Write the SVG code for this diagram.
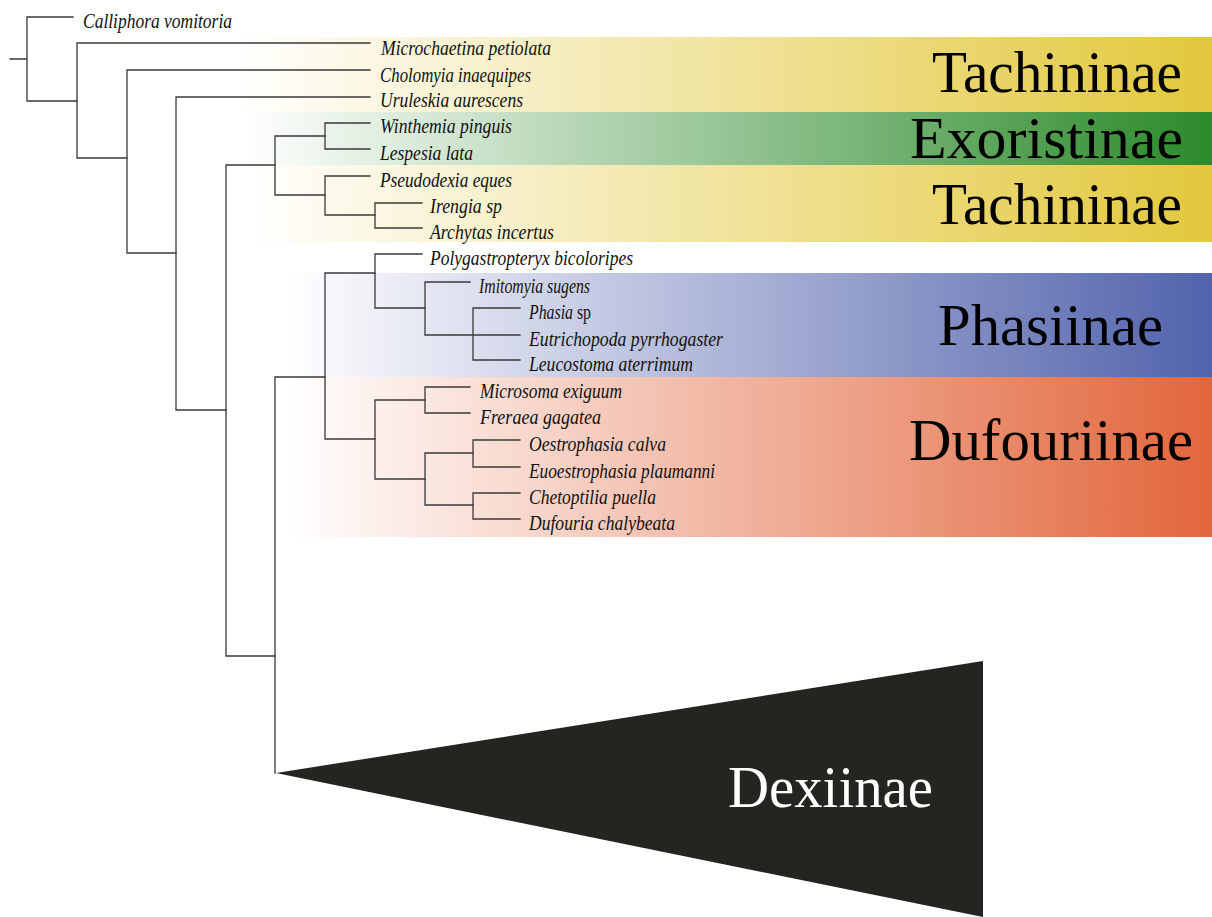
<svg xmlns="http://www.w3.org/2000/svg" width="1212" height="917" viewBox="0 0 1212 917">
<style>
.tx{font-family:"Liberation Serif","Times New Roman",serif;font-style:italic;font-size:20px;fill:#111}
.up{font-style:normal}
.big{font-family:"Liberation Serif","Times New Roman",serif;font-size:60px;fill:#000}
.br{fill:none;stroke:#3a3a3a;stroke-width:1.3;stroke-linecap:square}
</style>
<defs>
<linearGradient id="gY" x1="0" y1="0" x2="1" y2="0"><stop offset="0" stop-color="#ffffff"/><stop offset="1" stop-color="#e2c83c"/></linearGradient>
<linearGradient id="gG" x1="0" y1="0" x2="1" y2="0"><stop offset="0" stop-color="#ffffff"/><stop offset="1" stop-color="#2c8a2a"/></linearGradient>
<linearGradient id="gB" x1="0" y1="0" x2="1" y2="0"><stop offset="0" stop-color="#ffffff"/><stop offset="1" stop-color="#5263ac"/></linearGradient>
<linearGradient id="gR" x1="0" y1="0" x2="1" y2="0"><stop offset="0" stop-color="#ffffff"/><stop offset="1" stop-color="#e2663c"/></linearGradient>
</defs>
<rect width="1212" height="917" fill="#ffffff"/>
<g id="bands">
<rect x="230" y="37" width="982" height="75" fill="url(#gY)"/>
<rect x="240" y="112" width="972" height="53" fill="url(#gG)"/>
<rect x="240" y="165" width="972" height="77" fill="url(#gY)"/>
<rect x="285" y="273" width="927" height="104" fill="url(#gB)"/>
<rect x="285" y="377" width="927" height="160" fill="url(#gR)"/>
</g>
<g id="dexiinae">
<polygon points="276,773 983,661 983,917" fill="#262421"/>
<text class="big" x="728" y="807" style="fill:#ffffff" textLength="205" lengthAdjust="spacingAndGlyphs">Dexiinae</text>
</g>
<g id="connectors" class="br">
<path d="M10,59H27M27,17V101M27,17H73M27,101H77"/>
<path d="M77,43V158M77,43H370M77,158H127"/>
<path d="M127,70V253M127,70H370M127,253H176"/>
<path d="M176,97V410M176,97H370M176,410H226"/>
<path d="M226,165V656M226,165H275M226,656H275"/>
<path d="M275,136V195M275,136H325M275,195H325"/>
<path d="M325,123V149M325,123H370M325,149H370"/>
<path d="M325,176V215M325,176H370M325,215H375"/>
<path d="M375,203V228M375,203H422M375,228H422"/>
<path d="M275,377V773M275,377H325"/>
<path d="M325,273V439M325,273H375M325,439H375"/>
<path d="M375,254V308M375,254H422M375,308H425"/>
<path d="M425,282V335M425,282H470M425,335H520"/>
<path d="M473,308V360M473,308H520M473,360H520"/>
<path d="M375,400V479M375,400H425M375,479H425"/>
<path d="M425,387V413M425,387H470M425,413H470"/>
<path d="M425,453V505M425,453H473M425,505H473"/>
<path d="M473,440V467M473,440H520M473,467H520"/>
<path d="M473,493V519M473,493H520M473,519H520"/>
</g>
<g id="taxa">
<text class="tx" x="83" y="28" textLength="149" lengthAdjust="spacingAndGlyphs">Calliphora vomitoria</text>
<text class="tx" x="381" y="55" textLength="170" lengthAdjust="spacingAndGlyphs">Microchaetina petiolata</text>
<text class="tx" x="380" y="82" textLength="151" lengthAdjust="spacingAndGlyphs">Cholomyia inaequipes</text>
<text class="tx" x="380" y="107" textLength="143" lengthAdjust="spacingAndGlyphs">Uruleskia aurescens</text>
<text class="tx" x="380" y="133" textLength="132" lengthAdjust="spacingAndGlyphs">Winthemia pinguis</text>
<text class="tx" x="380" y="160" textLength="93" lengthAdjust="spacingAndGlyphs">Lespesia lata</text>
<text class="tx" x="380" y="187" textLength="132" lengthAdjust="spacingAndGlyphs">Pseudodexia eques</text>
<text class="tx" x="430" y="213" textLength="72" lengthAdjust="spacingAndGlyphs">Irengia sp</text>
<text class="tx" x="430" y="239" textLength="124" lengthAdjust="spacingAndGlyphs">Archytas incertus</text>
<text class="tx" x="430" y="265" textLength="203" lengthAdjust="spacingAndGlyphs">Polygastropteryx bicoloripes</text>
<text class="tx" x="479" y="293" textLength="111" lengthAdjust="spacingAndGlyphs">Imitomyia sugens</text>
<text class="tx" x="529" y="319" textLength="62" lengthAdjust="spacingAndGlyphs">Phasia <tspan class="up">sp</tspan></text>
<text class="tx" x="529" y="346" textLength="194" lengthAdjust="spacingAndGlyphs">Eutrichopoda pyrrhogaster</text>
<text class="tx" x="529" y="371" textLength="164" lengthAdjust="spacingAndGlyphs">Leucostoma aterrimum</text>
<text class="tx" x="480" y="398" textLength="142" lengthAdjust="spacingAndGlyphs">Microsoma exiguum</text>
<text class="tx" x="480" y="424" textLength="121" lengthAdjust="spacingAndGlyphs">Freraea gagatea</text>
<text class="tx" x="529" y="451" textLength="137" lengthAdjust="spacingAndGlyphs">Oestrophasia calva</text>
<text class="tx" x="529" y="478" textLength="186" lengthAdjust="spacingAndGlyphs">Euoestrophasia plaumanni</text>
<text class="tx" x="529" y="504" textLength="127" lengthAdjust="spacingAndGlyphs">Chetoptilia puella</text>
<text class="tx" x="529" y="530" textLength="146" lengthAdjust="spacingAndGlyphs">Dufouria chalybeata</text>
</g>
<g id="subfamilies">
<text class="big" x="932" y="92" textLength="250" lengthAdjust="spacingAndGlyphs">Tachininae</text>
<text class="big" x="910" y="158" textLength="273" lengthAdjust="spacingAndGlyphs">Exoristinae</text>
<text class="big" x="932" y="224" textLength="250" lengthAdjust="spacingAndGlyphs">Tachininae</text>
<text class="big" x="938" y="345" textLength="225" lengthAdjust="spacingAndGlyphs">Phasiinae</text>
<text class="big" x="909" y="460" textLength="284" lengthAdjust="spacingAndGlyphs">Dufouriinae</text>
</g>
</svg>
